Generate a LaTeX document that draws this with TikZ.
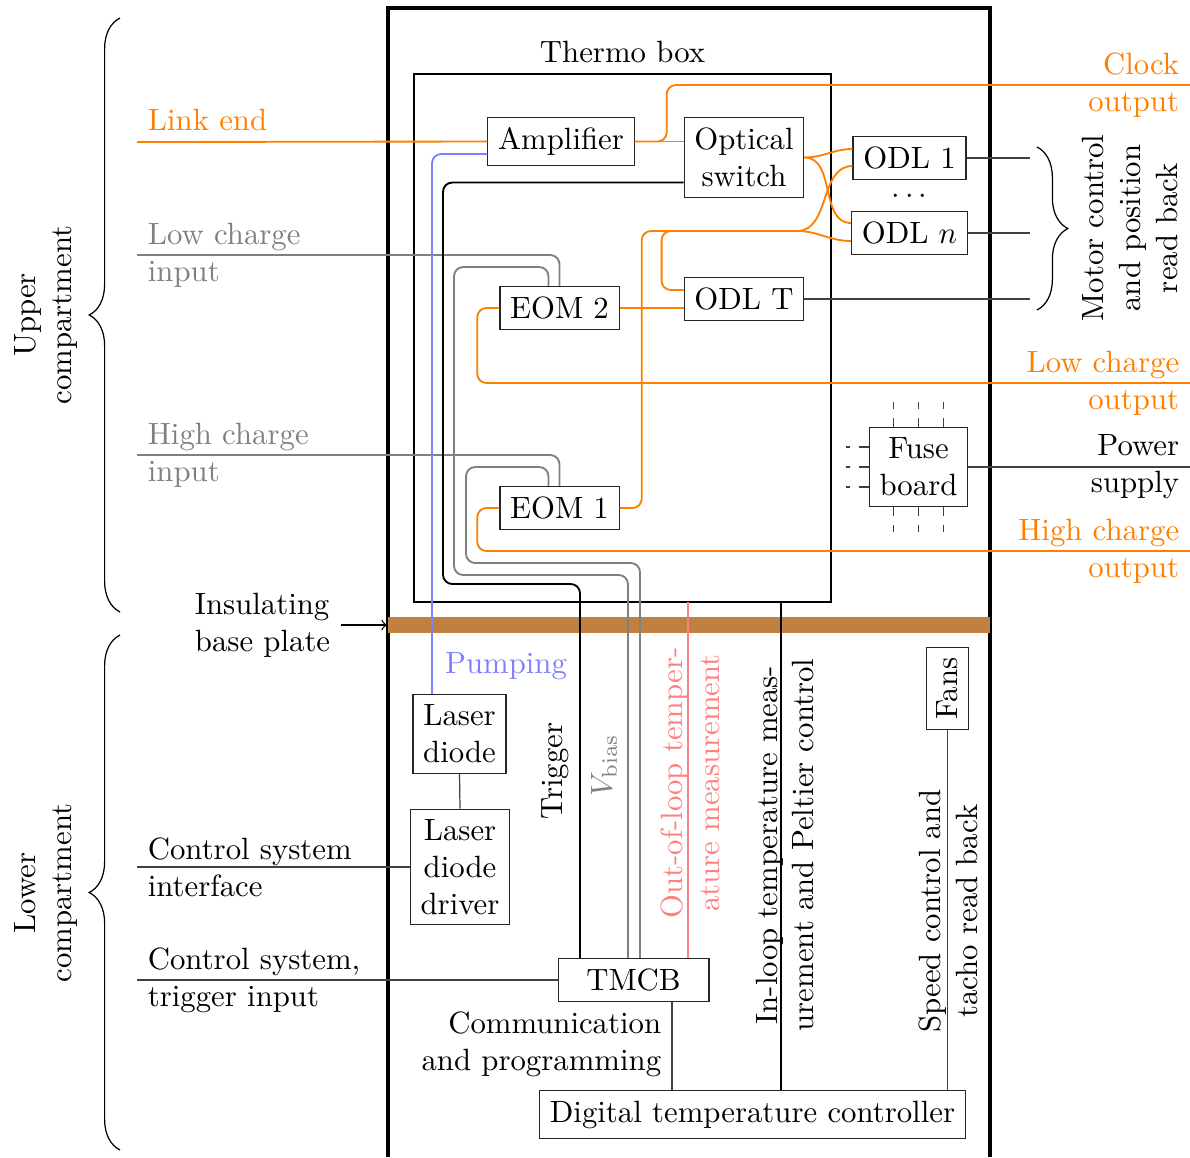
\documentclass[tikz,border=0pt]{standalone}
\usetikzlibrary{calc,decorations.pathreplacing}
\begin{document}
\begin{tikzpicture}[x=0.325pt,y=-0.325pt]
\tikzset{
  box/.style={draw=black!85, line width=0.4pt, inner sep=3.33pt},
  fibre/.style={draw=orange, semithick},
  biasline/.style={draw=gray, semithick},
  trig/.style={draw=black, semithick},
  pump/.style={draw=blue!50, semithick},
  thinwire/.style={draw=black!75, line width=0.4pt},
  rcorner/.style={rounded corners=3pt},
  vlabel/.style={rotate=90, align=center},
  brc/.style={decorate, decoration={brace, amplitude=10pt}, line width=0.4pt},
}
\useasboundingbox (0,0) rectangle (1190,1157);

% enclosure and thermo box
\coordinate (obBL) at (388,1157);
\coordinate (obTR) at (990,8);
\coordinate (obBR) at (990,1157);
\draw[line width=1.2pt] (obBL) |- (obTR) -- (obBR);
\coordinate (tbNW) at (414,74);
\coordinate (tbSE) at (831,602);
\draw[line width=0.9pt] (tbNW) rectangle (tbSE);
\node[anchor=south] (tblabel) at (622.5,74) {Thermo box};

% insulating base plate
\coordinate (bpL) at (388,625);
\coordinate (bpR) at (990,625);
\draw[brown, line width=4.9pt] (bpL) -- (bpR);
\node[anchor=east, align=left] (ibp) at (341,625) {Insulating\\base plate};
\coordinate (bpTip) at (387,625);
\draw[->, line width=0.4pt] (ibp.east) -- (bpTip);

% compartments
\draw[brc] (120,612) -- (120,18);
\node[vlabel] (upc) at (46,315) {Upper\\compartment};
\draw[brc] (120,1150) -- (120,635);
\node[vlabel] (loc) at (46,893) {Lower\\compartment};

% boxes
\node[box] (amp) at (561,141.5) {Amplifier};
\node[box, align=center] (osw) at (744,157.5) {Optical\\switch};
\node[box] (odl1) at (909.5,158) {ODL 1};
\node[inner sep=0pt] (dots) at (909.5,197) {$\cdots$};
\node[box] (odln) at (909.5,233) {ODL $n$};
\node[box] (odlt) at (744,299) {ODL T};
\node[box] (eom2) at (559.5,308) {EOM 2};
\node[box] (eom1) at (559.5,508) {EOM 1};
\node[box, align=center] (fuse) at (918.5,467) {Fuse\\board};
\node[box, align=center] (ld) at (459.5,734) {Laser\\diode};
\node[box, align=center] (ldd) at (460,867) {Laser\\diode\\driver};
\node[box, minimum width=49pt] (tmcb) at (633.5,980) {TMCB};
\node[box] (dtc) at (752.5,1114.5) {Digital temperature controller};
\node[box, rotate=90] (fans) at (947.5,688.5) {Fans};

% outside terminals
\coordinate (linkL) at (137,142);
\coordinate (lcinL) at (137,255);
\coordinate (hcinL) at (137,455);
\coordinate (csiL) at (137,867);
\coordinate (cstL) at (137,980);
\coordinate (clkR) at (1190,85);
\coordinate (lcoR) at (1190,383);
\coordinate (hcoR) at (1190,551);
\coordinate (pwR) at (1190,467);
\coordinate (mcx) at (1030,0);

% outside labels
\node[anchor=south west, text=orange] (linklbl) at (linkL) {Link end};
\node[anchor=west, align=left, text=gray] (lcinlbl) at (lcinL) {Low charge\\input};
\node[anchor=west, align=left, text=gray] (hcinlbl) at (hcinL) {High charge\\input};
\node[anchor=west, align=left] (csilbl) at (csiL) {Control system\\interface};
\node[anchor=west, align=left] (cstlbl) at (cstL) {Control system,\\trigger input};
\node[anchor=east, align=right, text=orange] (clklbl) at (clkR) {Clock\\output};
\node[anchor=east, align=right, text=orange] (lcolbl) at (lcoR) {Low charge\\output};
\node[anchor=east, align=right, text=orange] (hcolbl) at (hcoR) {High charge\\output};
\node[anchor=east, align=right] (pwlbl) at (pwR) {Power\\supply};

% optical fibres
\draw[fibre] (linkL) -- (amp.west);
\draw[fibre] (amp.east) -- (amp.east -| osw.west);
\draw[fibre, rcorner] (amp.east) -- ++(32,0) |- (clkR);
\draw[fibre] (osw.east) to[out=0,in=180] ($(odl1.west)+(0,-9)$);
\draw[fibre] (osw.east) to[out=0,in=180] ($(odln.west)+(0,-10)$);
\coordinate (jn) at (797,231);
\draw[fibre] (jn) to[out=0,in=180] ($(odl1.west)+(0,8)$);
\draw[fibre] (jn) to[out=0,in=180] ($(odln.west)+(0,8)$);
\draw[fibre, rcorner] (eom1.east) -- ++(22,0) |- (jn);
\draw[fibre, rcorner] ($(odlt.west)+(0,-9)$) -- ++(-22,0) |- (jn);
\draw[fibre] (eom2.east) -- (eom2.east -| odlt.west);
\draw[fibre, rcorner] (eom2.west) -- ++(-22,0) |- (lcoR);
\draw[fibre, rcorner] (eom1.west) -- ++(-22,0) |- (hcoR);

% bias and charge inputs
\draw[biasline, rcorner] (lcinL) -| (eom2.north);
\draw[biasline, rcorner] (hcinL) -| (eom1.north);
\coordinate (g2a) at (454,267);
\coordinate (g2b) at (628,575);
\draw[biasline, rcorner] ($(eom2.north)+(-11,0)$) |- (g2a) |- (g2b) -- (g2b |- tmcb.north);
\coordinate (g1a) at (466,467);
\coordinate (g1b) at (640,563);
\draw[biasline, rcorner] ($(eom1.north)+(-11,0)$) |- (g1a) |- (g1b) -- (g1b |- tmcb.north);

% trigger
\coordinate (tr1) at (443,584);
\coordinate (tr2) at (580,584);
\draw[trig, rcorner] ($(osw.west)+(0,25)$) -| (tr1) -- (tr2) -- (tr2 |- tmcb.north);

% pumping
\coordinate (pmp) at (432,154);
\draw[pump, rcorner] ($(amp.west)+(0,12.5)$) -- (pmp) -- (pmp |- ld.north);
\node[text=blue!50] (pmplbl) at (506,666) {Pumping};

% temperature measurement and control
\coordinate (oolT) at (688,602);
\draw[draw=red!50, semithick] (oolT) -- (oolT |- tmcb.north);
\node[vlabel, text=red!50] (oollbl) at (690,783) {Out-of-loop temper-\\ature measurement};
\coordinate (ilT) at (781,602);
\draw[semithick] (ilT) -- (ilT |- dtc.north);
\node[vlabel] (illbl) at (785,845) {In-loop temperature meas-\\urement and Peltier control};

\node[vlabel] (trglbl) at (555.5,771) {Trigger};
\node[vlabel, text=gray] (vblbl) at (604,765) {$V_\mathrm{bias}$};

% electrical connections
\draw[thinwire] (ld.south) -- (ldd.north);
\draw[thinwire] (csiL) -- (ldd.west);
\draw[thinwire] (cstL) -- (tmcb.west);
\coordinate (cp) at (672,1001);
\draw[thinwire] (cp) -- (cp |- dtc.north);
\node[anchor=north east, align=right] (cplbl) at (cp) {Communication\\and programming};
\draw[thinwire] (fans.west) -- (fans.west |- dtc.north);
\node[vlabel] (fanlbl) at (948,911) {Speed control and\\tacho read back};

\draw[thinwire] (odl1.east) -- (odl1.east -| mcx);
\draw[thinwire] (odln.east) -- (odln.east -| mcx);
\draw[thinwire] (odlt.east) -- (odlt.east -| mcx);
\draw[brc] (1037,147) -- (1037,310);
\node[vlabel] (mclbl) at (1130,228) {Motor control\\and position\\read back};

% fuse board
\draw[thinwire] (fuse.east) -- (fuse.east -| pwR);
\foreach \d in {-25,0,25} {
  \draw[thinwire, dashed] ($(fuse.north)+(\d,0)$) -- ++(0,-25);
  \draw[thinwire, dashed] ($(fuse.south)+(\d,0)$) -- ++(0,25);
}
\foreach \d in {-20,0,20} {
  \draw[thinwire, dashed] ($(fuse.west)+(0,\d)$) -- ++(-23,0);
}
\end{tikzpicture}
\end{document}
